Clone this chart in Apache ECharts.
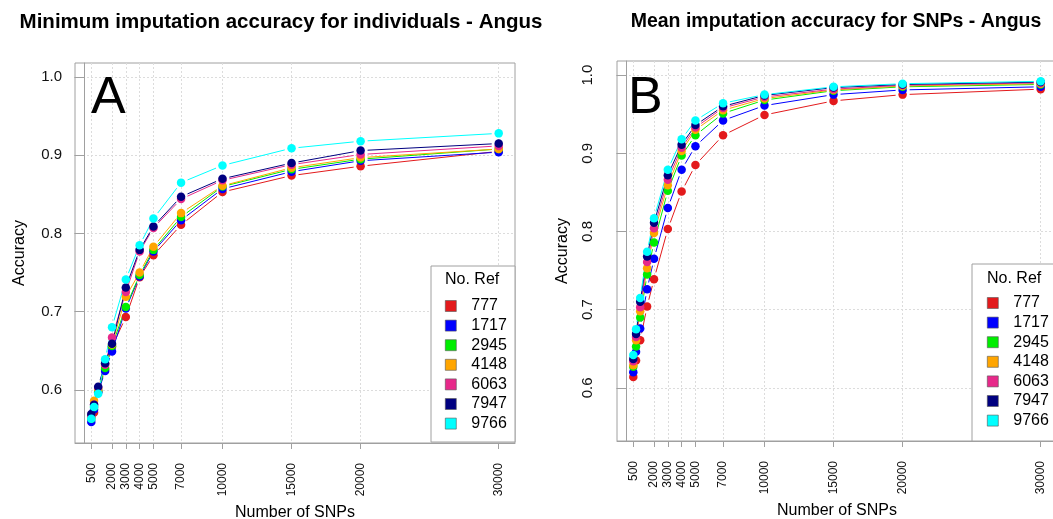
<!DOCTYPE html>
<html><head><meta charset="utf-8">
<script src="https://cdn.jsdelivr.net/npm/echarts@6/dist/echarts.min.js"></script>
<style>html,body{margin:0;padding:0;background:#fff}#c{width:1053px;height:519px}</style>
</head><body><div id="c"></div>
<script>
// ---- data ----
const snps = [500, 700, 1000, 1500, 2000, 3000, 4000, 5000, 7000, 10000, 15000, 20000, 30000];
const xTicks = [500, 2000, 3000, 4000, 5000, 7000, 10000, 15000, 20000, 30000];
const yTicks = [0.6, 0.7, 0.8, 0.9, 1.0];
const refNames = ['777', '1717', '2945', '4148', '6063', '7947', '9766'];
const refColors = ['#E31A1C', '#0000FF', '#00EE00', '#FFA500', '#E7298A', '#000080', '#00FFFF'];

// Panel A: minimum imputation accuracy for individuals
const minInd777  = [0.566, 0.571, 0.598, 0.626, 0.655, 0.693, 0.744, 0.772, 0.811, 0.853, 0.874, 0.886, 0.905];
const minInd1717 = [0.559, 0.575, 0.597, 0.624, 0.649, 0.704, 0.745, 0.777, 0.817, 0.857, 0.879, 0.893, 0.904];
const minInd2945 = [0.563, 0.578, 0.599, 0.628, 0.656, 0.706, 0.747, 0.779, 0.821, 0.860, 0.882, 0.895, 0.908];
const minInd4148 = [0.568, 0.586, 0.601, 0.633, 0.658, 0.719, 0.750, 0.783, 0.826, 0.861, 0.884, 0.897, 0.908];
const minInd6063 = [0.567, 0.581, 0.603, 0.632, 0.667, 0.725, 0.777, 0.807, 0.844, 0.868, 0.888, 0.901, 0.912];
const minInd7947 = [0.569, 0.581, 0.604, 0.634, 0.659, 0.731, 0.779, 0.809, 0.847, 0.870, 0.890, 0.906, 0.915];
const minInd9766 = [0.563, 0.578, 0.595, 0.639, 0.680, 0.741, 0.785, 0.819, 0.865, 0.887, 0.909, 0.918, 0.928];

// Panel B: mean imputation accuracy for SNPs
const meanSnp777  = [0.614, 0.635, 0.661, 0.704, 0.739, 0.803, 0.851, 0.885, 0.923, 0.949, 0.967, 0.975, 0.982];
const meanSnp1717 = [0.620, 0.646, 0.676, 0.726, 0.765, 0.830, 0.879, 0.909, 0.942, 0.961, 0.975, 0.981, 0.985];
const meanSnp2945 = [0.627, 0.653, 0.690, 0.745, 0.786, 0.852, 0.897, 0.923, 0.951, 0.968, 0.980, 0.985, 0.988];
const meanSnp4148 = [0.629, 0.661, 0.698, 0.753, 0.798, 0.859, 0.903, 0.930, 0.955, 0.970, 0.981, 0.986, 0.989];
const meanSnp6063 = [0.634, 0.665, 0.703, 0.761, 0.804, 0.866, 0.907, 0.933, 0.958, 0.972, 0.982, 0.987, 0.990];
const meanSnp7947 = [0.637, 0.669, 0.710, 0.768, 0.811, 0.872, 0.911, 0.936, 0.960, 0.974, 0.984, 0.988, 0.991];
const meanSnp9766 = [0.642, 0.675, 0.715, 0.774, 0.817, 0.879, 0.918, 0.942, 0.964, 0.975, 0.985, 0.989, 0.992];

const panelA = [minInd777, minInd1717, minInd2945, minInd4148, minInd6063, minInd7947, minInd9766];
const panelB = [meanSnp777, meanSnp1717, meanSnp2945, meanSnp4148, meanSnp6063, meanSnp7947, meanSnp9766];

// ---- chart ----
const FONT = 'Liberation Sans, Arial, sans-serif';
const chart = echarts.init(document.getElementById('c'), null, {renderer: 'canvas'});

function gapLine(color) {
  return function (params, api) {
    const p1 = api.coord([api.value(0), api.value(1)]);
    const p2 = api.coord([api.value(2), api.value(3)]);
    const dx = p2[0] - p1[0], dy = p2[1] - p1[1];
    const len = Math.hypot(dx, dy);
    const g = 7;
    if (len <= 2 * g) return null;
    const ux = dx / len, uy = dy / len;
    return {
      type: 'line',
      shape: {x1: p1[0] + ux * g, y1: p1[1] + uy * g, x2: p2[0] - ux * g, y2: p2[1] - uy * g},
      style: {stroke: color, lineWidth: 1}
    };
  };
}

const series = [];
function addPanel(idx, values) {
  values.forEach((vals, k) => {
    const segs = [];
    for (let j = 0; j < snps.length - 1; j++) segs.push([snps[j], vals[j], snps[j + 1], vals[j + 1]]);
    series.push({
      type: 'custom', name: refNames[k], xAxisIndex: idx, yAxisIndex: idx,
      data: segs, renderItem: gapLine(refColors[k]), itemStyle: {color: refColors[k]},
      encode: {x: [0, 2], y: [1, 3]}, silent: true
    });
    series.push({
      type: 'scatter', name: refNames[k], xAxisIndex: idx, yAxisIndex: idx,
      data: snps.map((s, j) => [s, vals[j]]), symbol: 'circle', symbolSize: 8.5,
      itemStyle: {color: refColors[k], opacity: 1}, silent: true
    });
  });
}
addPanel(0, panelA);
addPanel(1, panelB);

const gridLineStyle = {color: '#dcdcdc', type: [2, 2], width: 1};
function xAxisDef(gridIndex) {
  return {
    type: 'value', gridIndex: gridIndex, min: -680, max: 31180,
    name: 'Number of SNPs', nameLocation: 'middle', nameGap: gridIndex === 0 ? 60 : 62,
    nameTextStyle: {fontFamily: FONT, fontSize: 16, color: '#000'},
    axisLine: {show: true, lineStyle: {color: '#a0a0a0'}},
    axisTick: {show: true, length: 6, customValues: xTicks, lineStyle: {color: '#a0a0a0'}},
    axisLabel: {show: true, customValues: xTicks, rotate: 90, margin: 20, formatter: v => String(v),
                fontFamily: FONT, fontSize: 12, color: '#111'},
    splitLine: {show: true, lineStyle: gridLineStyle}
  };
}
function yAxisDef(gridIndex) {
  return {
    type: 'value', gridIndex: gridIndex, min: 0.532, max: 1.018,
    name: 'Accuracy', nameLocation: 'middle', nameGap: gridIndex === 0 ? 47 : 46,
    nameTextStyle: {fontFamily: FONT, fontSize: 16, color: '#000'},
    axisLine: {show: true, lineStyle: {color: '#a0a0a0'}},
    axisTick: {show: true, length: 10, customValues: yTicks, lineStyle: {color: '#a0a0a0'}},
    axisLabel: {
      show: true, customValues: yTicks, rotate: gridIndex === 0 ? 0 : 90,
      margin: gridIndex === 0 ? 13 : 22,
      formatter: v => Number(v).toFixed(1), fontFamily: FONT, fontSize: 15, color: '#111'
    },
    splitLine: {show: true, lineStyle: gridLineStyle}
  };
}

function txt(x, y, text, size, weight, align, valign, z) {
  return {
    type: 'text', x: x, y: y, z: z || 6, silent: true,
    style: {
      text: text, fill: '#000', font: (weight || 'normal') + ' ' + size + 'px ' + FONT,
      align: align || 'left', textAlign: align || 'left',
      verticalAlign: valign || 'middle', textVerticalAlign: valign || 'middle'
    }
  };
}

const legendCommon = {
  orient: 'vertical', icon: 'rect', itemWidth: 11, itemHeight: 11, itemGap: 3.6,
  padding: 0, selectedMode: false, z: 6,
  itemStyle: {borderColor: '#555', borderWidth: 0.6},
  textStyle: {fontFamily: FONT, fontSize: 16, lineHeight: 16, color: '#000', padding: [0, 0, 0, 10]},
  data: refNames
};

chart.setOption({
  animation: false,
  backgroundColor: '#fff',
  grid: [
    {left: 75, top: 63, width: 440, height: 380, show: true, borderColor: '#a0a0a0', borderWidth: 1,
     containLabel: false, outerBoundsMode: 'none'},
    {left: 617, top: 61, width: 440, height: 380, show: true, borderColor: '#a0a0a0', borderWidth: 1,
     containLabel: false, outerBoundsMode: 'none'}
  ],
  xAxis: [xAxisDef(0), xAxisDef(1)],
  yAxis: [yAxisDef(0), yAxisDef(1)],
  legend: [
    Object.assign({}, legendCommon, {left: 445, top: 298}),
    Object.assign({}, legendCommon, {left: 987, top: 295})
  ],
  graphic: [
    txt(281, 22, 'Minimum imputation accuracy for individuals - Angus', 20.5, 'bold', 'center'),
    txt(836, 22, 'Mean imputation accuracy for SNPs - Angus', 19.5, 'bold', 'center'),
    txt(91, 99, 'A', 52, 'normal', 'left'),
    txt(628, 99, 'B', 52, 'normal', 'left'),
    {type: 'rect', z: 5, silent: true, shape: {x: 431, y: 266, width: 84, height: 176},
     style: {fill: '#fff', stroke: '#a0a0a0', lineWidth: 1}},
    {type: 'rect', z: 5, silent: true, shape: {x: 972, y: 264, width: 100, height: 177},
     style: {fill: '#fff', stroke: '#a0a0a0', lineWidth: 1}},
    txt(445, 280, 'No. Ref', 16, 'normal', 'left'),
    txt(987, 279, 'No. Ref', 16, 'normal', 'left')
  ],
  series: series
});
</script>
</body></html>
